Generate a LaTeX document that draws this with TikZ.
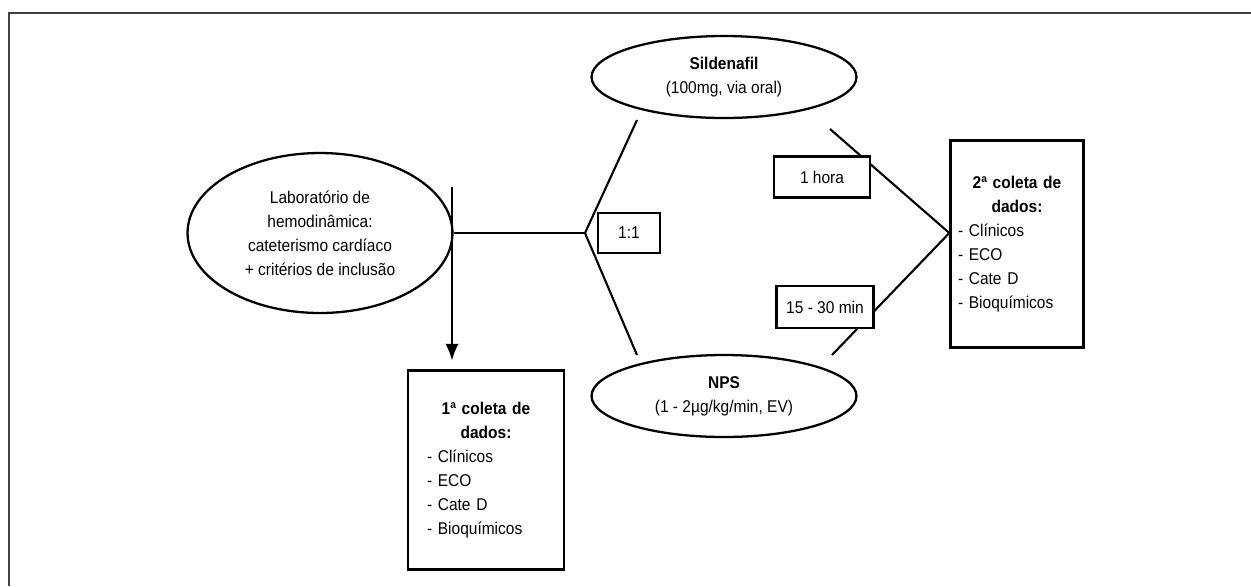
\documentclass[tikz,border=0pt]{standalone}
\usepackage{fontspec}
\setmainfont{Liberation Sans}[FakeStretch=0.91]
\usetikzlibrary{shapes.geometric,arrows.meta,backgrounds}

\begin{document}
\begin{tikzpicture}[x=0.02cm, y=-0.02cm, line width=1.2pt,
  every node/.style={font=\fontsize{9.7}{13.7}\selectfont},
  oval/.style={draw, ellipse, line width=1.3pt, align=center, inner sep=0pt},
  tag/.style={draw, fill=white, line width=1.3pt, align=center, inner sep=0pt},
  link/.style={line width=1.2pt},
  coleta/.style={draw, fill=white, line width=1.3pt, text width=2.36cm,
    inner xsep=4.3pt, minimum height=#1}]
  \useasboundingbox (0,0) rectangle (1251,586);

  % frame
  \draw[black!75, line width=1.2pt] (9,586) -- (9,13) -- (1251,13);

  % ellipses
  \node[oval, minimum width=5.3cm, minimum height=3.2cm] (lab) at (320,233)
    {Laboratório de\\hemodinâmica:\\cateterismo cardíaco\\+ critérios de inclusão};
  \node[oval, minimum width=5.3cm, minimum height=1.64cm] (sild) at (724,77)
    {\textbf{Sildenafil}\\(100mg, via oral)};
  \node[oval, minimum width=5.3cm, minimum height=1.64cm] (nps) at (724,396)
    {\textbf{NPS}\\(1 - 2µg/kg/min, EV)};

  % small boxes
  \node[tag, minimum width=1.24cm, minimum height=0.8cm] (ratio) at (629,233) {1:1};
  \node[tag, minimum width=1.92cm, minimum height=0.82cm] (hora) at (822,177) {1 hora};
  \node[tag, minimum width=1.94cm, minimum height=0.84cm] (minutos) at (825,307) {15 - 30 min};

  % data boxes
  \node[coleta=3.98cm, minimum width=3.12cm] (col1) at (486,470)
    {\centering\textbf{1ª coleta de\\dados:}\par\raggedright
     - Clínicos\\- ECO\\- Cate D\\- Bioquímicos\par};
  \node[coleta=4.14cm] (col2) at (1017,244)
    {\centering\textbf{2ª coleta de\\dados:}\par\raggedright
     - Clínicos\\- ECO\\- Cate D\\- Bioquímicos\par};

  % branch points
  \coordinate (labtop) at (452,187);
  \coordinate (split) at (585,233);
  \coordinate (sildin) at (637,120);
  \coordinate (npsin) at (637,355);
  \coordinate (sildout) at (830,129);
  \coordinate (npsout) at (832,355);
  \coordinate (join) at (col2.west |- split);

  \begin{scope}[on background layer]
    \draw[link, -{Latex[length=9.5pt,width=7.5pt]}, shorten >=5pt]
      (labtop) -- (labtop |- col1.north);
    \draw[link] (lab.east) -- (split);
    \draw[link] (sildin) -- (split) -- (npsin);
    \draw[link] (sildout) -- (join) -- (npsout);
  \end{scope}
\end{tikzpicture}
\end{document}
